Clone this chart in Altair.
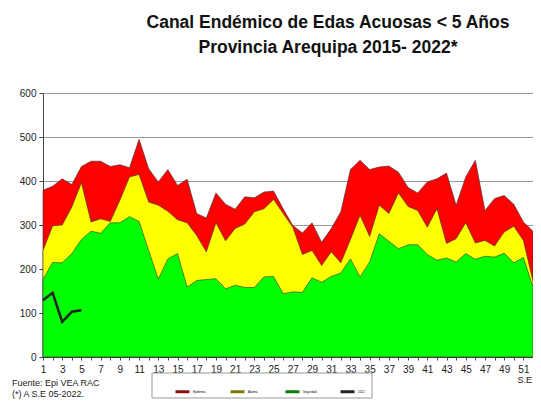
import altair as alt
import pandas as pd

weeks = list(range(1, 53))
epidemia = [379, 388, 405, 392, 433, 445, 445, 433, 437, 430, 495, 428, 398, 426, 390, 404,
            326, 316, 373, 347, 336, 364, 362, 375, 377, 337, 299, 282, 305, 261, 292, 330,
            426, 447, 426, 432, 434, 420, 385, 373, 398, 405, 418, 345, 409, 447, 333, 360,
            367, 347, 307, 286]
alarma = [242, 298, 300, 341, 396, 307, 314, 308, 356, 409, 415, 352, 345, 331, 312, 305,
          276, 239, 305, 264, 292, 302, 330, 337, 358, 326, 295, 233, 242, 208, 239, 214,
          267, 322, 274, 345, 326, 373, 342, 333, 295, 337, 258, 269, 305, 259, 265, 252,
          284, 297, 265, 172]
seguridad = [176, 215, 214, 235, 267, 286, 281, 305, 305, 319, 308, 242, 177, 223, 235, 159,
             174, 176, 178, 155, 163, 158, 158, 182, 183, 144, 148, 147, 180, 170, 183, 191,
             223, 182, 216, 280, 263, 246, 255, 255, 233, 220, 225, 216, 235, 222, 229, 227,
             236, 214, 226, 159]
weeks_2022 = [1, 2, 3, 4, 5]
casos_2022 = [129, 146, 80, 103, 106]
y_ticks = [0, 100, 200, 300, 400, 500, 600]
legend_names = ["Epidemia", "Alarma", "Seguridad", "2022"]
legend_colors = ["#8B1010", "#7A7A00", "#0A7A0A", "#222222"]

FONT = "Liberation Sans"

df = pd.DataFrame({"semana": weeks, "epidemia": epidemia, "alarma": alarma, "seguridad": seguridad})
df22 = pd.DataFrame({"semana": weeks_2022, "casos": casos_2022, "serie": ["2022"] * 5})

x_scale = alt.Scale(domain=[1, 52], nice=False, zero=False)
y_scale = alt.Scale(domain=[0, 600], nice=False)

x_axis = alt.Axis(values=weeks, labelExpr="datum.value % 2 == 1 ? datum.label : ''",
                  title="S.E", titleX=474, titleY=18, titleAlign="left", titleFontSize=9,
                  titleFontWeight="normal", titleFont=FONT, titleColor="#222", grid=False, tickSize=3,
                  labelFont=FONT, labelFontSize=10, labelPadding=4, labelColor="#222",
                  domainColor="#444", tickColor="#444", labelFlush=False)
y_axis = alt.Axis(values=y_ticks, title="", grid=True, gridColor="#9a9a9a", tickSize=4,
                  labelFont=FONT, labelFontSize=10, labelColor="#222", labelPadding=3,
                  domainColor="#444", tickColor="#444")

def area(col, color):
    return alt.Chart(df).mark_area(color=color, stroke="#333", strokeWidth=0.6, opacity=1).encode(
        x=alt.X("semana:Q", scale=x_scale, axis=x_axis),
        y=alt.Y(f"{col}:Q", scale=y_scale, axis=y_axis),
    )

red = area("epidemia", "#FF0000")
yellow = area("alarma", "#FFFF00")
green = area("seguridad", "#00FF00")

line = alt.Chart(df22).mark_line(strokeWidth=2.5).encode(
    x=alt.X("semana:Q", scale=x_scale, axis=x_axis),
    y=alt.Y("casos:Q", scale=y_scale, axis=y_axis),
    color=alt.Color("serie:N", scale=alt.Scale(domain=legend_names, range=legend_colors),
                    legend=alt.Legend(orient="none", legendX=131, legendY=290, direction="horizontal",
                                      title=None, symbolType="stroke", symbolSize=196,
                                      symbolStrokeWidth=3, labelFontSize=3, labelLimit=14,
                                      gridAlign="all", columnPadding=17, labelOffset=2)),
)

box = alt.Chart(pd.DataFrame({"a": [0]})).mark_rect(fill="white", fillOpacity=0, stroke="#999",
                                                   strokeWidth=1).encode(
    x=alt.value(109), x2=alt.value(329), y=alt.value(280), y2=alt.value(305))

notes = alt.Chart(pd.DataFrame({"t": ["Fuente: Epi VEA RAC\n(*) A S.E  05-2022."]})).mark_text(
    align="left", baseline="middle", font=FONT, fontSize=9, lineBreak="\n", lineHeight=11,
    color="#222").encode(text="t:N", x=alt.value(-31), y=alt.value(290))

chart = alt.layer(red, yellow, green, box, line, notes).properties(
    width=490, height=264,
    title=alt.TitleParams(text=["Canal Endémico de Edas Acuosas  < 5 Años",
                                "Provincia Arequipa  2015- 2022*"],
                          font=FONT, fontSize=17.5, fontWeight="bold", anchor="middle",
                          dx=40, offset=32, lineHeight=25, color="#111"),
    autosize=alt.AutoSizeParams(type="none"),
    padding={"left": 35, "top": 85, "right": 0, "bottom": 42},
).configure_view(stroke="#999", strokeWidth=1).configure(background="white")

chart.save("out.html", embed_options={"renderer": "svg", "actions": False})
